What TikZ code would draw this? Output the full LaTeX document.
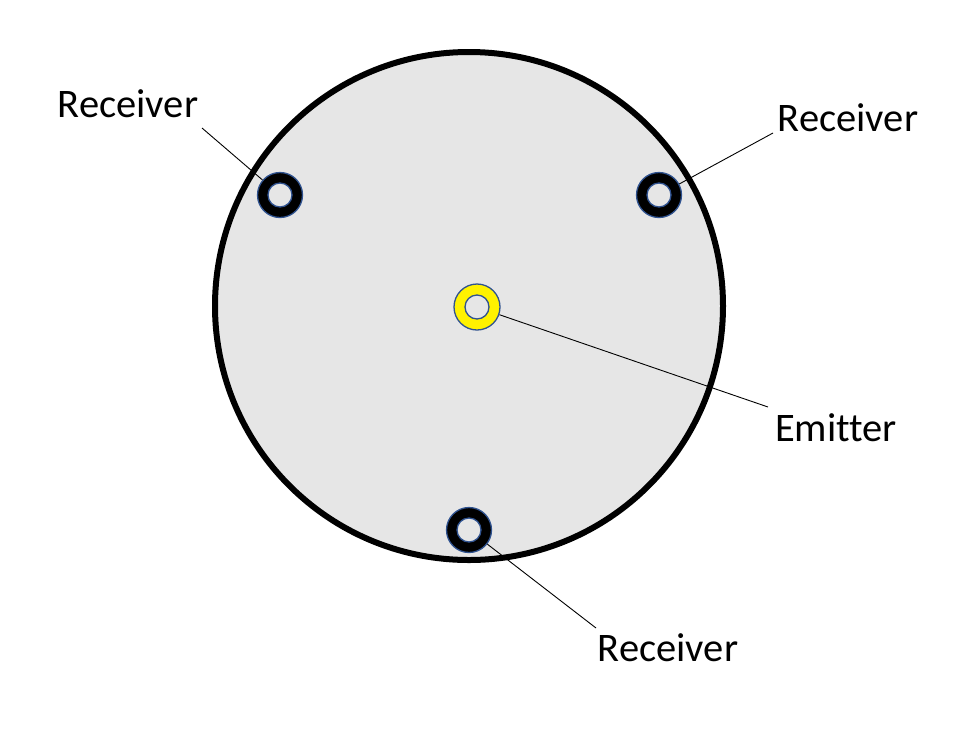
\documentclass[tikz,border=0pt]{standalone}
\usepackage{fontspec}
\setmainfont{Carlito}[Ligatures=NoCommon]
\definecolor{disk}{RGB}{230,230,230}
\definecolor{rim}{RGB}{47,82,143}
\begin{document}
\begin{tikzpicture}[x=1pt,y=-1pt,
  ring/.style={circle,fill=black,draw=rim,line width=1.3pt,minimum size=45pt,inner sep=0pt},
  emit/.style={ring,fill=yellow,minimum size=46pt},
  hole/.style={circle,fill=disk,draw=rim,line width=1.3pt,minimum size=24pt,inner sep=0pt},
  lbl/.style={font=\fontsize{40.5}{46}\selectfont,inner sep=0pt},
  leader/.style={line width=0.9pt}]
\useasboundingbox[fill=white] (0,0) rectangle (975,729);
\node[circle,fill=disk,draw=black,line width=6pt,minimum size=508pt,inner sep=0pt] (disk) at (469,306) {};
\node[ring] (r1) at (280,195) {};
\node[hole] (h1) at (280,195) {};
\node[ring] (r2) at (659,195) {};
\node[hole] (h2) at (659,195) {};
\node[ring] (r3) at (469,530) {};
\node[hole] (h3) at (469,530) {};
\node[emit] (e) at (477,307) {};
\node[hole] (he) at (477,307) {};
\node[lbl] (l1) at (128,104) {Receiver};
\node[lbl] (l2) at (848,118) {Receiver};
\node[lbl] (l3) at (836,428) {Emitter};
\node[lbl] (l4) at (668,648) {Receiver};
\coordinate (c1) at (202,128);
\coordinate (c2) at (773,133);
\coordinate (c3) at (768,407);
\coordinate (c4) at (596,628);
\draw[leader] (c1) -- (r1);
\draw[leader] (c2) -- (r2);
\draw[leader] (c3) -- (e);
\draw[leader] (c4) -- (r3);
\end{tikzpicture}
\end{document}
